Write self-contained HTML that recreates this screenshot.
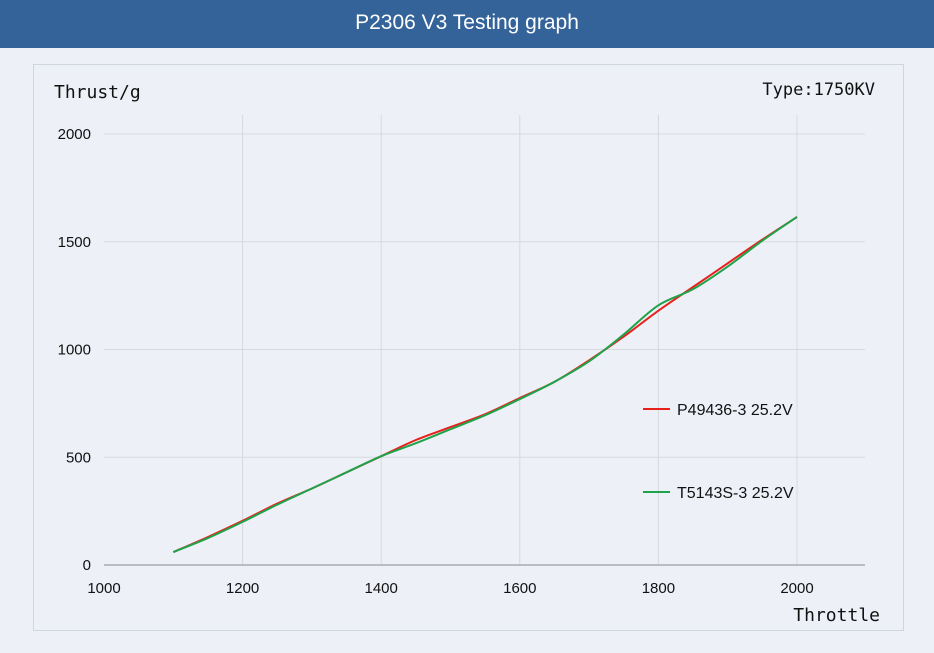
<!DOCTYPE html>
<html><head><meta charset="utf-8"><style>
body{margin:0;width:934px;height:653px;background:#edf1f7;font-family:"Liberation Sans","DejaVu Sans",sans-serif;overflow:hidden}
#hdr{position:absolute;left:0;top:0;width:934px;height:48px;background:#336398;color:#fff;font-size:21px;text-align:center;line-height:45px}
#panel{position:absolute;left:33px;top:64px;width:869px;height:565px;border:1px solid #cfd6df;background:#edf1f7}
svg{position:absolute;left:0;top:0}
</style></head><body>
<div id="hdr">P2306 V3 Testing graph</div>
<div id="panel"></div>
<svg id="c" width="934" height="653"></svg>
<script>
const xTicks=[1000,1200,1400,1600,1800,2000];
const yTicks=[0,500,1000,1500,2000];
const throttle=[1100,1150,1200,1250,1300,1350,1400,1450,1500,1550,1600,1650,1700,1750,1800,1850,1900,1950,2000];
const redThrust=[60,130,205,285,355,430,505,580,640,700,775,850,950,1060,1180,1290,1400,1510,1615];
const greenThrust=[60,125,200,280,355,430,505,565,630,695,770,850,945,1070,1205,1280,1385,1505,1615];
const seriesNames=["P49436-3 25.2V","T5143S-3 25.2V"];
const svg=document.getElementById('c');const NS='http://www.w3.org/2000/svg';
const X=v=>104+(v-1000)*0.693, Y=v=>565-v*0.2155;
function mk(t,a,txt){const e=document.createElementNS(NS,t);for(const k in a)e.setAttribute(k,a[k]);if(txt!==undefined)e.textContent=txt;svg.appendChild(e);return e;}
xTicks.forEach(v=>{if(v>1000){const l=mk('line',{x1:X(v),x2:X(v),y1:115,y2:565,stroke:'#d6d9dd'});}
const t=mk('text',{x:X(v),y:593,'text-anchor':'middle','font-size':15,fill:'#111'},v);});
yTicks.forEach(v=>{if(v>0){const l=mk('line',{x1:104,x2:865,y1:Y(v),y2:Y(v),stroke:'#d6d9dd'});}
const t=mk('text',{x:91,y:Y(v)+5,'text-anchor':'end','font-size':15,fill:'#111'},v);});
let a=mk('line',{x1:104,x2:865,y1:565,y2:565,stroke:'#888'});
let t1=mk('text',{x:54,y:98,'font-size':18,fill:'#111','font-family':'DejaVu Sans Mono, monospace'},'Thrust/g');
let t2=mk('text',{x:875,y:95,'text-anchor':'end','font-size':17,fill:'#111','font-family':'DejaVu Sans Mono, monospace'},'Type:1750KV');
let t3=mk('text',{x:880,y:621,'text-anchor':'end','font-size':18,fill:'#111','font-family':'DejaVu Sans Mono, monospace'},'Throttle');
function path(ys){const p=throttle.map((v,i)=>[X(v),Y(ys[i])]);let d='M'+p[0];for(let i=0;i<p.length-1;i++){const p0=p[i-1]||p[i],p1=p[i],p2=p[i+1],p3=p[i+2]||p2;
d+=' C'+(p1[0]+(p2[0]-p0[0])/6)+','+(p1[1]+(p2[1]-p0[1])/6)+' '+(p2[0]-(p3[0]-p1[0])/6)+','+(p2[1]-(p3[1]-p1[1])/6)+' '+p2;}return d;}
let r=mk('path',{d:path(redThrust),fill:'none',stroke:'#e8201c','stroke-width':2});
let g=mk('path',{d:path(greenThrust),fill:'none',stroke:'#1fa34a','stroke-width':2});
[['#e8201c',409],['#1fa34a',492]].forEach((s,i)=>{const l=mk('line',{x1:643,x2:670,y1:s[1],y2:s[1],stroke:s[0],'stroke-width':2});
const t=mk('text',{x:677,y:s[1]+6,'font-size':16,fill:'#111'},seriesNames[i]);});
</script></body></html>
